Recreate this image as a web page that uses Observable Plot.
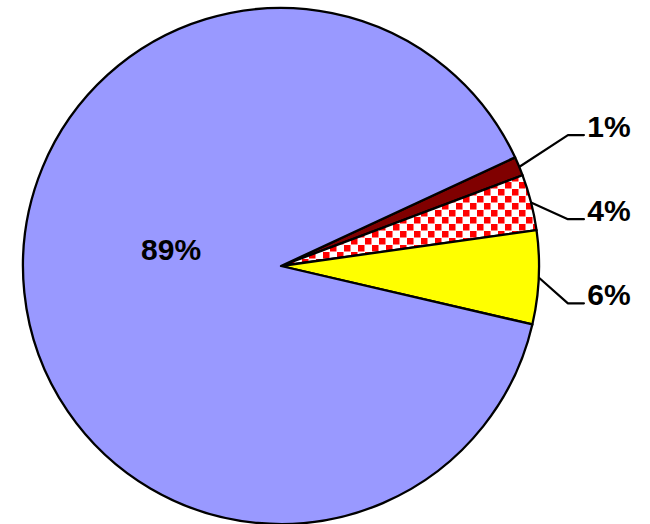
<!DOCTYPE html>
<html><head><meta charset="utf-8">
<script src="https://cdn.jsdelivr.net/npm/d3@7"></script>
<script src="https://cdn.jsdelivr.net/npm/@observablehq/plot@0.6"></script>
<style>body{margin:0;background:#fff}#chart{width:650px;height:524px}</style>
</head><body><div id="chart"></div>
<script>
// Data (slice order clockwise from the first slice)
const categories = ["Slice A", "Slice B", "Slice C", "Slice D"];
const values = [1.2, 3.5, 5.85, 89.45];
const valueLabels = ["1%", "4%", "6%", "89%"];
const fills = ["#800000", "url(#redDots)", "#FFFF00", "#9999FF"];

const data = categories.map((c, i) => ({category: c, value: values[i], label: valueLabels[i], fill: fills[i]}));

const startDeg = 65.1;
const pie = d3.pie().sort(null).value(d => d.value)
  .startAngle(startDeg * Math.PI / 180)
  .endAngle(startDeg * Math.PI / 180 + 2 * Math.PI);
const arcs = pie(data);

// unit coordinates: pie radius = 1, centre at (0,0), y up
const mid = a => (a.startAngle + a.endAngle) / 2;
const outside = arcs.filter(a => a.data.value < 10);
const inside = arcs.filter(a => a.data.value >= 10);

// simple label spreading for outside labels
const gap = 0.326;
const midYs = outside.map(a => Math.cos(mid(a)));
const meanY = d3.mean(midYs) - 0.013;
const labelYs = outside.map((a, i) => meanY + ((outside.length - 1) / 2 - i) * gap);
const elbowX = 1.11, endX = 1.172, textX = 1.185;

const leaders = [];
outside.forEach((a, i) => {
  const m = mid(a);
  leaders.push({k: i, x: Math.sin(m), y: Math.cos(m)});
  leaders.push({k: i, x: elbowX, y: labelYs[i]});
  leaders.push({k: i, x: endX, y: labelYs[i]});
});
const outLabels = outside.map((a, i) => ({x: textX, y: labelYs[i], text: a.data.label}));
const inLabels = inside.map(a => ({x: 0.43 * Math.sin(mid(a)), y: 0.43 * Math.cos(mid(a)), text: a.data.label}));

function pieMark(index, scales, values, dims, context) {
  const cx = scales.x(0), cy = scales.y(0), r = scales.x(1) - scales.x(0);
  const g = d3.create("svg:g");
  const defs = g.append("defs");
  const P = 14, S = 6.5;
  const pat = defs.append("pattern").attr("id", "redDots")
    .attr("patternUnits", "userSpaceOnUse").attr("width", P).attr("height", P);
  pat.append("rect").attr("width", P).attr("height", P).attr("fill", "white");
  pat.append("rect").attr("x", 0).attr("y", 0).attr("width", S).attr("height", S).attr("fill", "#FF0000");
  pat.append("rect").attr("x", P / 2).attr("y", P / 2).attr("width", S).attr("height", S).attr("fill", "#FF0000");
  const arc = d3.arc().innerRadius(0).outerRadius(r);
  g.append("g").attr("transform", `translate(${cx},${cy})`)
    .selectAll("path").data(arcs).join("path")
    .attr("d", arc)
    .attr("fill", d => d.data.fill)
    .attr("stroke", "black")
    .attr("stroke-width", 2.3)
    .attr("stroke-linejoin", "round");
  return g.node();
}

const font = "'Liberation Sans', Arial, Helvetica, sans-serif";
const chart = Plot.plot({
  width: 650,
  height: 524,
  margin: 0,
  x: {domain: [-1.089, 1.430], axis: null},
  y: {domain: [-1.0, 1.031], axis: null},
  marks: [
    pieMark,
    Plot.line(leaders, {x: "x", y: "y", z: "k", stroke: "black", strokeWidth: 2.2, strokeLinejoin: "miter"}),
    Plot.text(outLabels, {x: "x", y: "y", text: "text", textAnchor: "start", lineAnchor: "middle", dy: -8,
      fill: "black", fontSize: 30, fontWeight: "bold", fontFamily: font}),
    Plot.text(inLabels, {x: "x", y: "y", text: "text", textAnchor: "middle", lineAnchor: "middle", dy: -28,
      fill: "black", fontSize: 30, fontWeight: "bold", fontFamily: font})
  ]
});
document.getElementById("chart").appendChild(chart);
</script>
</body></html>
